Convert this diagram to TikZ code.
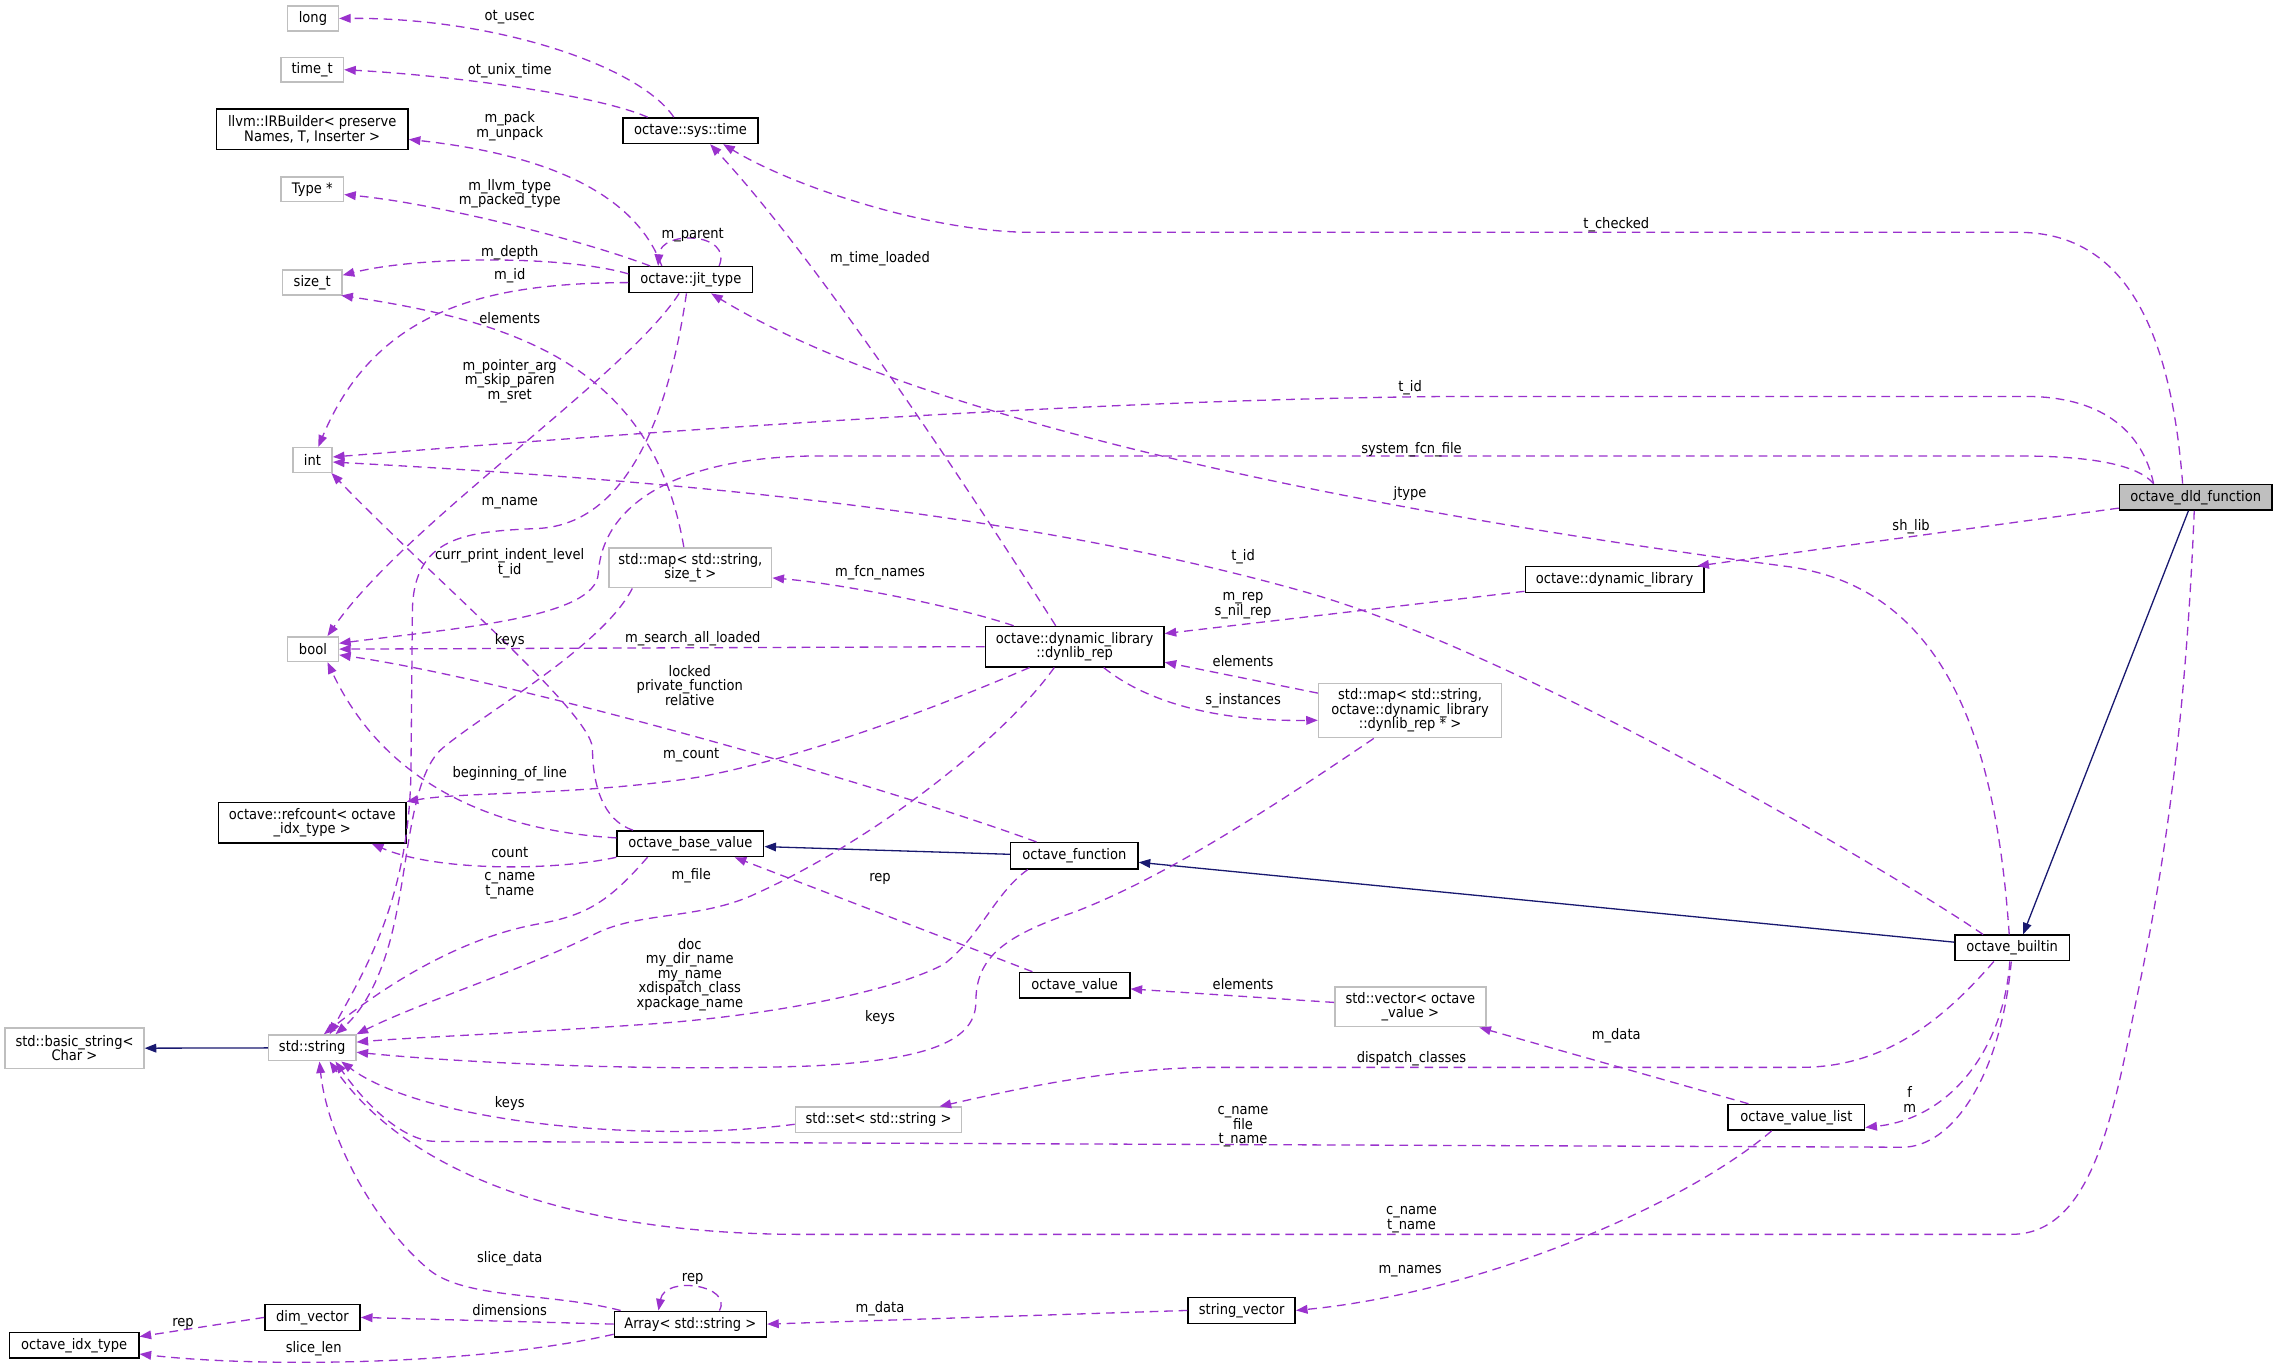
\documentclass[tikz,border=0pt]{standalone}
\usepackage{fontspec}
\setmainfont{DejaVu Sans}[FakeStretch=0.9]
\usetikzlibrary{arrows.meta}
\definecolor{usec}{HTML}{9A32CD}
\definecolor{inhc}{HTML}{191970}
\definecolor{gbord}{HTML}{BFBFBF}
\definecolor{dldfill}{HTML}{BFBFBF}
\begin{document}
\begin{tikzpicture}[x=1pt,y=-1pt,
  nf/.style={font=\fontsize{10}{10}\selectfont},
  box/.style={nf, draw=black, line width=1pt, fill=white, inner sep=0pt, align=center},
  gbox/.style={box, draw=gbord},
  lbl/.style={nf, align=center, inner sep=0pt},
  use/.style={draw=usec, line width=0.9pt, dash pattern=on 6pt off 4pt, -{Triangle[length=8pt,width=6pt]}},
  inh/.style={draw=inhc, line width=0.9pt, -{Triangle[length=8pt,width=6pt]}},
]
\useasboundingbox (0,0) rectangle (1568,941);
% ---------- nodes ----------
\node[gbox, minimum width=35pt, minimum height=17pt] (long) at (215.5,12.7) {long};
\node[gbox, minimum width=43pt, minimum height=17pt] (timet) at (215,48) {time\_t};
\node[box, minimum width=132pt, minimum height=28pt] (irb) at (215,89) {llvm::IRBuilder< preserve\\Names, T, Inserter >};
\node[gbox, minimum width=43pt, minimum height=17pt] (typep) at (215,130.4) {Type *};
\node[gbox, minimum width=41pt, minimum height=17pt] (sizet) at (215,194.5) {size\_t};
\node[gbox, minimum width=27pt, minimum height=17pt] (int) at (215.2,316.7) {int};
\node[gbox, minimum width=35pt, minimum height=17pt] (bool) at (215.5,447) {bool};
\node[box, minimum width=129pt, minimum height=28pt] (refc) at (215,566.5) {octave::refcount< octave\\\_idx\_type >};
\node[gbox, minimum width=95.6pt, minimum height=28pt] (bstr) at (51.3,721.8) {std::basic\_string<\\Char >};
\node[gbox, minimum width=60pt, minimum height=17.7pt] (str) at (215,721.6) {std::string};
\node[box, minimum width=65.6pt, minimum height=17.7pt] (dimv) at (215.2,907.2) {dim\_vector};
\node[box, minimum width=89pt, minimum height=17.7pt] (idx) at (51.1,926.4) {octave\_idx\_type};
\node[box, minimum width=104.7pt, minimum height=17.7pt] (arr) at (475.4,911.8) {Array< std::string >};
\node[box, minimum width=93pt, minimum height=17.6pt] (systime) at (475.5,90) {octave::sys::time};
\node[box, minimum width=85pt, minimum height=17.9pt] (jit) at (475.7,192.6) {octave::jit\_type};
\node[gbox, minimum width=112pt, minimum height=27.5pt] (mapsz) at (475.4,391) {std::map< std::string,\\size\_t >};
\node[box, minimum width=101pt, minimum height=17.7pt] (basev) at (475.4,581) {octave\_base\_value};
\node[box, minimum width=123pt, minimum height=27.8pt] (drep) at (740,445.3) {octave::dynamic\_library\\::dynlib\_rep};
\node[gbox, minimum width=126pt, minimum height=37.4pt] (mapdyn) at (971,489.3) {std::map< std::string,\\octave::dynamic\_library\\::dynlib\_rep * >};
\node[box, minimum width=87.6pt, minimum height=18pt] (func) at (739.8,589.3) {octave\_function};
\node[box, minimum width=76pt, minimum height=17.7pt] (oval) at (740,678.5) {octave\_value};
\node[gbox, minimum width=104pt, minimum height=27.5pt] (vec) at (971.2,693.3) {std::vector< octave\\\_value >};
\node[gbox, minimum width=114.5pt, minimum height=17.6pt] (set) at (605,771.2) {std::set< std::string >};
\node[box, minimum width=73.8pt, minimum height=17.9pt] (strvec) at (855,902.4) {string\_vector};
\node[box, minimum width=123pt, minimum height=17.9pt] (dynlib) at (1111.8,399.2) {octave::dynamic\_library};
\node[box, fill=dldfill, minimum width=105pt, minimum height=17.7pt] (dld) at (1512,342.4) {octave\_dld\_function};
\node[box, minimum width=78.8pt, minimum height=17.6pt] (builtin) at (1385.6,652.8) {octave\_builtin};
\node[box, minimum width=94pt, minimum height=17.7pt] (vlist) at (1237,769.4) {octave\_value\_list};
% ---------- inheritance ----------
\draw[inh] ([xshift=-5pt]dld.south) -- ([xshift=7.5pt]builtin.north);
\draw[inh] ([yshift=4pt]builtin.west) -- ([yshift=-4.5pt]func.east);
\draw[inh] ([yshift=1pt]func.west) -- ([yshift=-2pt]basev.east);
\draw[inh] (str.west) -- (bstr.east);
% ---------- usage ----------
\draw[use] ([xshift=-11.5pt]systime.north) .. controls (440,45) and (340,12) .. (long.east);
\draw[use] ([xshift=-29.5pt]systime.north) .. controls (410,65) and (310,52) .. (timet.east);
\draw[use] ([xshift=-20pt]jit.north) .. controls (440,140) and (390,108) .. ([yshift=-7pt]irb.east);
\draw[use] ([xshift=-28pt]jit.north) .. controls (400,165) and (300,140) .. ([yshift=-3.6pt]typep.east);
\draw[use] ([xshift=19.5pt]jit.north) .. controls (505,160) and (455,158) .. ([xshift=-22.5pt]jit.north);
\draw[use] ([yshift=4pt]jit.west) .. controls (390,176) and (290,176) .. ([yshift=5pt]sizet.east);
\draw[use] ([yshift=-2pt]jit.west) .. controls (340,195) and (260,210) .. ([xshift=4pt]int.north);
\draw[use] ([xshift=-4.5pt]mapsz.north) .. controls (450,255) and (360,222) .. ([xshift=-1pt]sizet.south east);
\draw[use] ([xshift=-8pt]jit.south) .. controls (430,260) and (280,360) .. ([xshift=10pt]bool.north);
\draw[use] ([xshift=-3pt]jit.south) .. controls (460,290) and (430,362) .. (369,364) .. controls (320,366) and (285,370) .. (284,420) -- (283,530) .. controls (282,620) and (250,670) .. ([xshift=12pt]str.north);
\draw[use] ([xshift=-13pt]drep.north) .. controls (650,310) and (555,170) .. ([xshift=13.5pt]systime.south);
\draw[use] ([xshift=-9pt]dld.north) .. controls (1495,230) and (1465,160) .. (1390,160) -- (711,160) .. controls (640,160) and (545,128) .. ([xshift=22.5pt]systime.south);
\draw[use] ([xshift=-29pt]dld.north) .. controls (1475,295) and (1445,273) .. (1395,273) -- (1000,273) .. controls (750,275) and (450,297) .. ([yshift=2pt]int.east);
\draw[use] ([xshift=-29pt]dld.north) .. controls (1472,320) and (1440,314) .. (1390,314) -- (560,314) .. controls (470,315) and (415,345) .. (412,395) .. controls (410,425) and (320,432) .. ([yshift=4pt]bool.east);
\draw[use] ([yshift=-7.5pt]dld.west) -- ([xshift=-5pt]dynlib.north east);
\draw[use] ([xshift=-1pt]dld.south) .. controls (1505,500) and (1490,600) .. (1471,689) .. controls (1455,770) and (1440,850) .. (1385,850) -- (551,850) .. controls (420,850) and (290,820) .. ([xshift=12pt]str.south);
\draw[use] ([xshift=-2pt]builtin.north) .. controls (1375,520) and (1345,405) .. (1230,390) .. controls (1000,360) and (650,300) .. ([xshift=14pt]jit.south);
\draw[use] ([xshift=-20pt]builtin.north) .. controls (1310,605) and (1050,450.6) .. (900,408) .. controls (700,351) and (450,330) .. ([yshift=-1.5pt]int.east);
\draw[use] ([xshift=-12.6pt]builtin.south) .. controls (1340,700) and (1300,735) .. (1240,735) -- (833,735) .. controls (760,736) and (700,750) .. ([xshift=42pt]set.north);
\draw[use] ([xshift=-1.6pt]builtin.south) .. controls (1380,720) and (1345,770) .. ([yshift=-7pt]vlist.east);
\draw[use] ([xshift=-0.6pt]builtin.south) .. controls (1378,740) and (1345,790) .. (1310,790) -- (300,786) .. controls (280,786) and (255,765) .. ([xshift=16pt]str.south);
\draw[use] ([xshift=-33pt]vlist.north) -- ([xshift=-5pt]vec.south east);
\draw[use] ([xshift=-17pt]vlist.south) .. controls (1160,830) and (1020,890) .. (strvec.east);
\draw[use] (strvec.west) -- (arr.east);
\draw[use] ([xshift=20pt]arr.north) .. controls (505,885) and (458,878) .. ([xshift=-22pt]arr.north);
\draw[use] ([xshift=-48pt]arr.north) .. controls (380,890) and (320,895) .. (295,874) .. controls (255,840) and (225,780) .. ([xshift=5pt]str.south);
\draw[use] (arr.west) -- (dimv.east);
\draw[use] ([yshift=-7pt]arr.west) .. controls (330,940) and (180,942) .. ([yshift=-6pt]idx.east);
\draw[use] (dimv.west) -- ([yshift=6pt]idx.east);
\draw[use] ([yshift=-3pt]set.west) .. controls (440,788) and (290,772) .. ([xshift=20pt]str.south);
\draw[use] ([yshift=3pt]vec.west) -- ([yshift=-2.5pt]oval.east);
\draw[use] ([xshift=-29pt]oval.north) -- ([xshift=30.5pt]basev.south);
\draw[use] ([xshift=-32pt]func.south) .. controls (685,615) and (675,645) .. (650,664) .. controls (610,685) and (520,700) .. (450,705) .. controls (350,712) and (290,714) .. ([yshift=4pt]str.east);
\draw[use] ([xshift=-25pt]mapdyn.south) .. controls (870,560) and (800,605) .. (740,628) .. controls (690,645) and (672,660) .. (672,690) .. controls (672,720) and (630,730) .. (560,734) .. controls (450,738) and (320,732) .. ([yshift=-3pt]str.east);
\draw[use] ([xshift=-26pt]func.north) .. controls (614,543) and (353,468) .. ([yshift=-4pt]bool.east);
\draw[use] ([xshift=-14pt]drep.south) .. controls (690,510) and (600,580) .. (517,617) .. controls (480,633) and (440,628) .. (410,643) .. controls (360,668) and (290,690) .. (str.north east);
\draw[use] ([xshift=-31pt]drep.south) .. controls (650,485) and (560,520) .. (482,535) .. controls (400,548) and (320,545) .. (refc.north east);
\draw[use] (drep.west) -- (bool.east);
\draw[use] ([xshift=-42pt]drep.north) .. controls (660,418) and (580,402) .. ([yshift=-7pt]mapsz.east);
\draw[use] ([xshift=20pt]drep.south) .. controls (785,480) and (830,497) .. ([yshift=-6.7pt]mapdyn.west);
\draw[use] ([yshift=12pt]mapdyn.west) -- ([yshift=-10.7pt]drep.east);
\draw[use] ([yshift=-8pt]dynlib.west) -- ([yshift=9pt]drep.east);
\draw[use] ([xshift=-39.5pt]basev.north) .. controls (415,565) and (408,540) .. (408,515) .. controls (406,490) and (300,400) .. ([xshift=-1pt]int.south east);
\draw[use] ([yshift=4pt]basev.west) .. controls (340,572) and (265,540) .. ([xshift=10pt]bool.south);
\draw[use] (basev.south west) .. controls (380,600) and (300,600) .. ([xshift=41pt]refc.south);
\draw[use] ([xshift=-29.5pt]basev.south) .. controls (420,620) and (405,630) .. (372,636) .. controls (320,645) and (270,675) .. ([xshift=8pt]str.north);
\draw[use] ([xshift=-40pt]mapsz.south) .. controls (415,445) and (335,490) .. (305,515) .. controls (281,535) and (282,600) .. (268,650) .. controls (258,685) and (245,700) .. ([xshift=16pt]str.north);
% ---------- labels ----------
\node[lbl] (l1) at (351,11.5) {ot\_usec};
\node[lbl] (l2) at (351,48.7) {ot\_unix\_time};
\node[lbl] (l3) at (351,87) {m\_pack\\m\_unpack};
\node[lbl] (l4) at (351,133.5) {m\_llvm\_type\\m\_packed\_type};
\node[lbl] (l5) at (477,162) {m\_parent};
\node[lbl] (l6) at (351,174) {m\_depth};
\node[lbl] (l7) at (351,190) {m\_id};
\node[lbl] (l8) at (351,219) {elements};
\node[lbl] (l9) at (351,262.5) {m\_pointer\_arg\\m\_skip\_paren\\m\_sret};
\node[lbl] (l10) at (351,346.5) {m\_name};
\node[lbl] (l11) at (351,388) {curr\_print\_indent\_level\\t\_id};
\node[lbl] (l12) at (351,441) {keys};
\node[lbl] (l13) at (477,440) {m\_search\_all\_loaded};
\node[lbl] (l14) at (475,472) {locked\\private\_function\\relative};
\node[lbl] (l15) at (476,520) {m\_count};
\node[lbl] (l16) at (351,533) {beginning\_of\_line};
\node[lbl] (l17) at (351,587) {count};
\node[lbl] (l18) at (351,610) {c\_name\\t\_name};
\node[lbl] (l19) at (476,603) {m\_file};
\node[lbl] (l20) at (606,605) {rep};
\node[lbl] (l21) at (606,178) {m\_time\_loaded};
\node[lbl] (l22) at (606,394.6) {m\_fcn\_names};
\node[lbl] (l23) at (475,671) {doc\\my\_dir\_name\\my\_name\\xdispatch\_class\\xpackage\_name};
\node[lbl] (l24) at (606,701) {keys};
\node[lbl] (l25) at (351,760) {keys};
\node[lbl] (l26) at (351,867) {slice\_data};
\node[lbl] (l27) at (477,881) {rep};
\node[lbl] (l28) at (351,902) {dimensions};
\node[lbl] (l29) at (126,912) {rep};
\node[lbl] (l30) at (216,928.5) {slice\_len};
\node[lbl] (l31) at (606,901) {m\_data};
\node[lbl] (l32) at (971,875) {m\_names};
\node[lbl] (l33) at (856,678) {elements};
\node[lbl] (l34) at (1113,713) {m\_data};
\node[lbl] (l35) at (972,729) {dispatch\_classes};
\node[lbl] (l36) at (856,776) {c\_name\\file\\t\_name};
\node[lbl] (l37) at (1315,757) {f\\m};
\node[lbl] (l38) at (972,840) {c\_name\\t\_name};
\node[lbl] (l39) at (856,417) {m\_rep\\s\_nil\_rep};
\node[lbl] (l40) at (856,455) {elements};
\node[lbl] (l41) at (856,482.6) {s\_instances};
\node[lbl] (l42) at (856,383.6) {t\_id};
\node[lbl] (l43) at (971,340) {jtype};
\node[lbl] (l44) at (972,310) {system\_fcn\_file};
\node[lbl] (l45) at (971,267) {t\_id};
\node[lbl] (l46) at (1113,154.5) {t\_checked};
\node[lbl] (l47) at (1316,363) {sh\_lib};
\end{tikzpicture}
\end{document}
